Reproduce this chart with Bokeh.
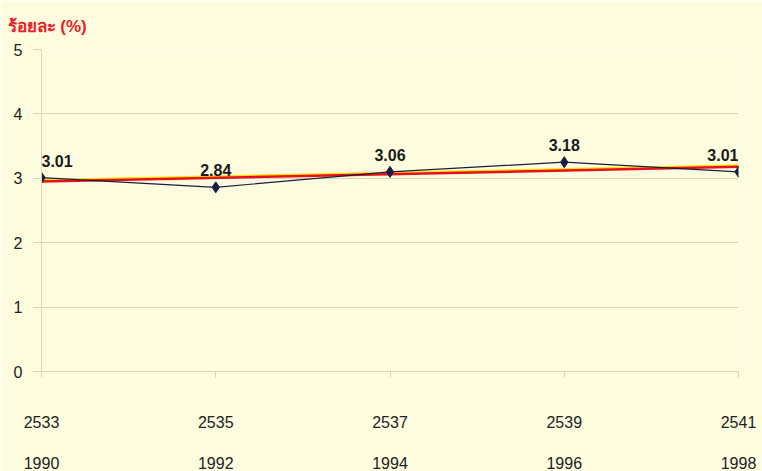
import numpy as np
from bokeh.plotting import figure
from bokeh.models import ColumnDataSource, LinearAxis, FixedTicker, Range1d, Title
from bokeh.embed import file_html
from bokeh.resources import INLINE

# ---- data ----
years_ad = [1990, 1992, 1994, 1996, 1998]
years_be = ["2533", "2535", "2537", "2539", "2541"]
rate = [3.01, 2.86, 3.10, 3.25, 3.10]          # plotted positions (%)
rate_labels = ["3.01", "2.84", "3.06", "3.18", "3.01"]  # printed labels
label_align = ["left", "center", "center", "center", "right"]
y_ticks = [0, 1, 2, 3, 4, 5]

BG = "#FDFCDF"
GRID = "#D6D6B4"

p = figure(width=762, height=471, output_backend="svg", toolbar_location=None,
           x_range=Range1d(years_ad[0], years_ad[-1]), y_range=Range1d(0, 5),
           x_axis_type=None, min_border_left=41, min_border_right=24,
           min_border_top=49, min_border_bottom=0)
p.background_fill_color = BG
p.border_fill_color = BG
p.outline_line_color = None

p.title = Title(text="ร้อยละ (%)", text_color="#E8202A", text_font_size="17px",
                text_font="Liberation Sans", text_font_style="bold", align="left",
                offset=-34, standoff=28)

# y axis
yax = p.yaxis[0]
yax.ticker = FixedTicker(ticks=y_ticks)
yax.axis_line_color = GRID
yax.major_tick_line_color = GRID
yax.major_tick_out = 8
yax.major_tick_in = 0
yax.minor_tick_line_color = None
yax.major_label_standoff = 11
yax.major_label_text_font = "Liberation Sans"
yax.major_label_text_font_size = "16px"
yax.major_label_text_color = "#222222"

p.ygrid.ticker = FixedTicker(ticks=y_ticks)
p.ygrid.grid_line_color = GRID
p.xgrid.grid_line_color = None

# x axes (Buddhist era on first row, AD on second row)
ax1 = LinearAxis(ticker=FixedTicker(ticks=years_ad),
                 major_label_overrides={y: s for y, s in zip(years_ad, years_be)})
ax1.axis_line_color = GRID
ax1.major_tick_line_color = GRID
ax1.major_tick_out = 6
ax1.major_tick_in = 0
ax1.minor_tick_line_color = None
ax1.major_label_standoff = 38
ax1.major_label_text_font = "Liberation Sans"
ax1.major_label_text_font_size = "16px"
ax1.major_label_text_color = "#222222"
p.add_layout(ax1, "below")

ax2 = LinearAxis(ticker=FixedTicker(ticks=years_ad),
                 major_label_overrides={y: str(y) for y in years_ad})
ax2.axis_line_color = None
ax2.major_tick_line_color = None
ax2.minor_tick_line_color = None
ax2.major_label_standoff = 20
ax2.major_label_text_font = "Liberation Sans"
ax2.major_label_text_font_size = "16px"
ax2.major_label_text_color = "#222222"
p.add_layout(ax2, "below")

src = ColumnDataSource(dict(x=years_ad, y=rate, lab=rate_labels, al=label_align))

# linear trend
coef = np.polyfit(years_ad, rate, 1)
tx = [years_ad[0], years_ad[-1]]
ty = list(np.polyval(coef, tx))
p.line(tx, [v + 0.015 for v in ty], line_color="#F2E600", line_width=3)
p.line(tx, ty, line_color="#E8101E", line_width=2.5)

p.line("x", "y", source=src, line_color="#1C1C40", line_width=1.2)
p.scatter("x", "y", source=src, marker="diamond", size=11, color="#1C1C40")
p.text("x", "y", text="lab", source=src, text_align="al", text_baseline="bottom",
       y_offset=-11, text_font_size="16px", text_font_style="bold",
       text_color="#1a1a1a", text_font={"value": "Liberation Sans"})

open("out.html", "w").write(file_html(p, INLINE))
